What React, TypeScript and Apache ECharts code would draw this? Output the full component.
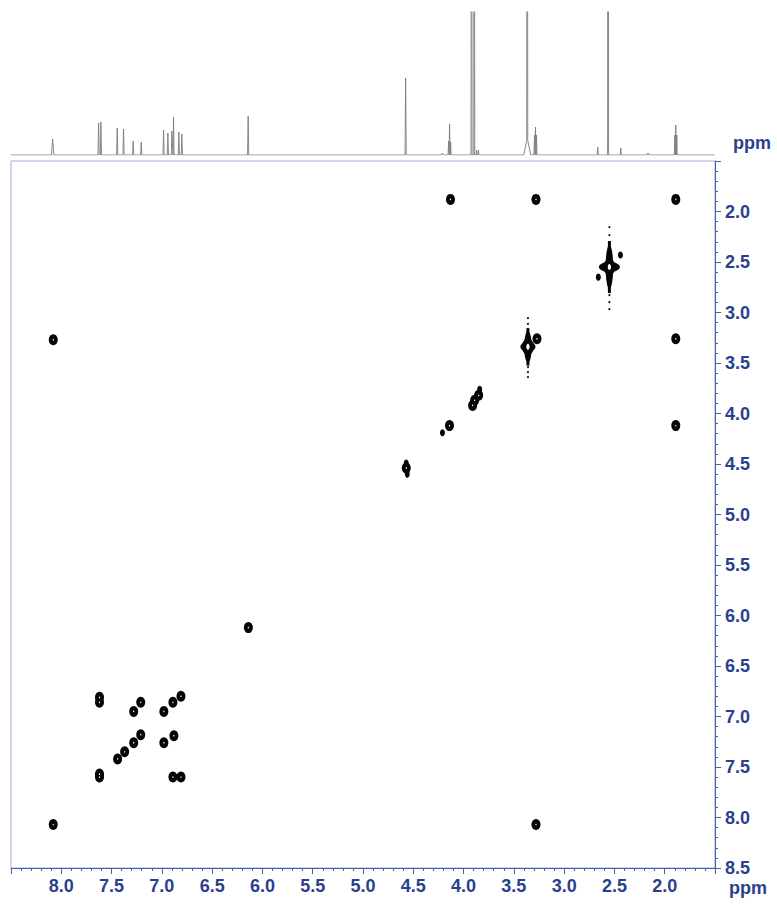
import { useEffect, useRef } from "react";
import * as echarts from "echarts";

// 1H projection: chemical shift (ppm), height above baseline, half linewidth (ppm)
const peakPpm = [
  8.086, 7.629, 7.606, 7.444, 7.381, 7.285, 7.205, 6.983, 6.94, 6.901, 6.884, 6.831, 6.801,
  6.142, 4.576, 4.21, 4.149, 4.139, 4.129, 3.921, 3.894, 3.87, 3.852, 3.367, 3.367, 3.295,
  3.285, 3.275, 2.666, 2.563, 2.437, 2.166, 1.9, 1.89, 1.88,
];
const peakHeight = [
  16, 32, 33, 27, 26, 14, 13, 25, 22, 24, 38, 23, 21,
  39, 77, 2, 14, 31, 13, 900, 900, 5, 5, 900, 17, 20,
  28, 20, 8, 900, 7, 2, 20, 30, 20,
];
const peakHalfWidth = [
  0.012, 0.006, 0.006, 0.006, 0.006, 0.006, 0.006, 0.006, 0.006, 0.005, 0.005, 0.006, 0.006,
  0.006, 0.006, 0.01, 0.005, 0.005, 0.005, 0.005, 0.005, 0.004, 0.004, 0.005, 0.035, 0.005,
  0.005, 0.005, 0.006, 0.005, 0.006, 0.01, 0.004, 0.004, 0.004,
];

// COSY contours: [F2 ppm, F1 ppm]
const crossPeaks: [number, number][] = [
  [8.08, 8.07], [8.08, 3.27], [3.28, 8.07],
  [7.62, 6.81], [7.62, 6.86], [7.62, 7.57], [7.62, 7.6],
  [7.44, 7.42], [7.37, 7.35],
  [7.28, 7.26], [7.28, 6.95], [6.98, 7.26], [6.98, 6.95],
  [7.21, 7.18], [7.21, 6.86], [6.88, 7.19], [6.89, 6.86], [6.81, 6.8],
  [6.89, 7.6], [6.81, 7.6],
  [6.14, 6.12],
  [4.57, 4.54],
  [4.14, 4.12],
  [3.89, 3.87], [3.85, 3.82], [3.91, 3.92],
  [3.27, 3.26],
  [4.13, 1.88], [3.28, 1.88], [1.89, 1.88], [1.89, 3.26], [1.89, 4.12],
];
const weakPeaks: [number, number][] = [
  [4.21, 4.19], [2.66, 2.65], [2.44, 2.43], [4.57, 4.49], [4.56, 4.6], [3.84, 3.76],
];
// strong solvent diagonal peaks: [F2 ppm, F1 ppm, relative intensity]
const strongDiagonal: [number, number, number][] = [
  [2.55, 2.55, 1.0],
  [3.36, 3.34, 0.72],
];

const PPM_MIN = 1.5;
const PPM_MAX = 8.5;
const NAVY = "#2b3f8f";
const AXIS_LINE = "#4a60a2";
const FRAME = "#9fb0d4";
const INK = "#050505";
const FONT = '"Liberation Sans", Arial, sans-serif';

// piecewise-linear stick spectrum from the peak table
function projectionLine(): [number, number][] {
  const xs = new Set<number>([PPM_MIN, PPM_MAX]);
  peakPpm.forEach((p, i) => {
    const w = peakHalfWidth[i];
    xs.add(+(p - w).toFixed(4));
    xs.add(p);
    xs.add(+(p + w).toFixed(4));
  });
  return Array.from(xs)
    .sort((a, b) => a - b)
    .map((x) => {
      let y = 0;
      peakPpm.forEach((p, i) => {
        const w = peakHalfWidth[i];
        const d = Math.abs(x - p);
        if (d < w) y += peakHeight[i] * (1 - d / w);
      });
      return [x, y] as [number, number];
    });
}

export default function App() {
  const ref = useRef<HTMLDivElement>(null);

  useEffect(() => {
    if (!ref.current) return;
    const chart = echarts.init(ref.current, undefined, { renderer: "svg" });
    const labelStyle = {
      color: NAVY,
      fontSize: 18,
      fontWeight: "bold" as const,
      fontFamily: FONT,
      formatter: (v: number) => v.toFixed(1),
    };

    chart.setOption({
      animation: false,
      backgroundColor: "#ffffff",
      grid: [
        {
          left: 11,
          top: 161,
          width: 704,
          height: 707,
          show: true,
          borderColor: FRAME,
          borderWidth: 1,
          backgroundColor: "transparent",
        },
        { left: 11, top: 12, width: 704, height: 143 },
      ],
      xAxis: [
        {
          type: "value",
          gridIndex: 0,
          min: PPM_MIN,
          max: PPM_MAX,
          interval: 0.5,
          inverse: true,
          position: "bottom",
          splitLine: { show: false },
          axisLine: { show: true, lineStyle: { color: AXIS_LINE, width: 1 } },
          axisTick: { show: true, length: 6, lineStyle: { color: AXIS_LINE } },
          minorTick: { show: true, splitNumber: 5, length: 3, lineStyle: { color: AXIS_LINE } },
          axisLabel: { ...labelStyle, margin: 9, showMinLabel: false, showMaxLabel: false },
        },
        {
          type: "value",
          gridIndex: 1,
          min: PPM_MIN,
          max: PPM_MAX,
          inverse: true,
          show: false,
        },
      ],
      yAxis: [
        {
          type: "value",
          gridIndex: 0,
          min: PPM_MIN,
          max: PPM_MAX,
          interval: 0.5,
          inverse: true,
          position: "right",
          splitLine: { show: false },
          axisLine: { show: true, lineStyle: { color: AXIS_LINE, width: 1 } },
          axisTick: { show: true, length: 6, lineStyle: { color: AXIS_LINE } },
          minorTick: { show: true, splitNumber: 5, length: 3, lineStyle: { color: AXIS_LINE } },
          axisLabel: { ...labelStyle, margin: 10, showMinLabel: false },
        },
        { type: "value", gridIndex: 1, min: 0, max: 143, show: false },
      ],
      graphic: [
        {
          type: "text",
          x: 748,
          y: 888,
          style: {
            text: "ppm",
            fill: NAVY,
            font: `bold 18px ${FONT}`,
            align: "center",
            verticalAlign: "middle",
          },
        },
        {
          type: "text",
          x: 752,
          y: 143,
          style: {
            text: "ppm",
            fill: NAVY,
            font: `bold 18px ${FONT}`,
            align: "center",
            verticalAlign: "middle",
          },
        },
      ],
      series: [
        {
          type: "line",
          xAxisIndex: 1,
          yAxisIndex: 1,
          data: projectionLine(),
          showSymbol: false,
          clip: true,
          lineStyle: { color: "#7c7c7c", width: 0.9 },
          silent: true,
        },
        {
          type: "scatter",
          xAxisIndex: 0,
          yAxisIndex: 0,
          data: crossPeaks,
          symbol: "circle",
          symbolSize: [9, 11],
          itemStyle: { color: INK, opacity: 1 },
          silent: true,
        },
        {
          type: "scatter",
          xAxisIndex: 0,
          yAxisIndex: 0,
          data: weakPeaks,
          symbol: "circle",
          symbolSize: [5, 7],
          itemStyle: { color: INK, opacity: 1 },
          silent: true,
        },
        {
          type: "custom",
          xAxisIndex: 0,
          yAxisIndex: 0,
          data: strongDiagonal,
          silent: true,
          renderItem: (_params: any, api: any) => {
            const [cx, cy] = api.coord([api.value(0), api.value(1)]);
            const s = api.value(2);
            const black = { fill: INK };
            const dots = [-40, -32, 28, 35, 42].map((o) => ({
              type: "circle",
              shape: { cx, cy: cy + o * s, r: 1 },
              style: black,
            }));
            return {
              type: "group",
              children: [
                { type: "ellipse", shape: { cx, cy, rx: 3.8, ry: 22 * s }, style: black },
                { type: "rect", shape: { x: cx - 1.5, y: cy - 26 * s, width: 3, height: 52 * s }, style: black },
                { type: "ellipse", shape: { cx, cy, rx: 10.5 * s, ry: 5 }, style: black },
                { type: "ellipse", shape: { cx, cy, rx: 6, ry: 8 }, style: black },
                { type: "ellipse", shape: { cx, cy, rx: 1.6, ry: 3 }, style: { fill: "#ffffff" } },
                ...dots,
              ],
            };
          },
        },
        {
          type: "scatter",
          xAxisIndex: 0,
          yAxisIndex: 0,
          data: crossPeaks,
          symbol: "circle",
          symbolSize: [1.2, 1.6],
          itemStyle: { color: "#ffffff", opacity: 1 },
          silent: true,
        },
      ],
    });

    return () => chart.dispose();
  }, []);

  return (
    <div
      ref={ref}
      style={{ position: "absolute", left: 0, top: 0, width: 777, height: 907, background: "#fff" }}
    />
  );
}
